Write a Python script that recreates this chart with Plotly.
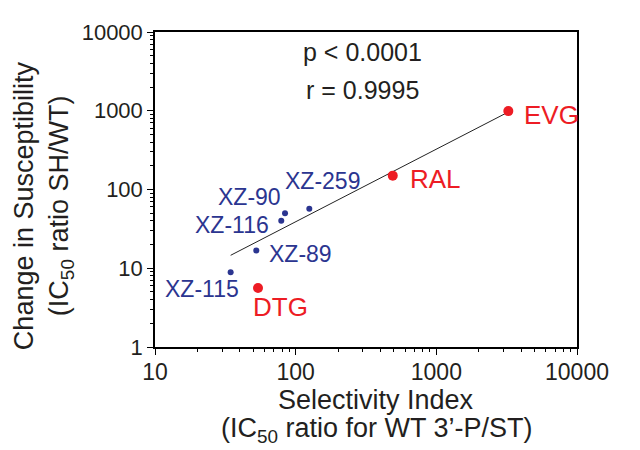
import math
import plotly.graph_objects as go

# Data
xz_names = ["XZ-259", "XZ-90", "XZ-116", "XZ-89", "XZ-115"]
xz_si = [125, 84, 79, 52.5, 34.5]
xz_fold = [57, 50, 40, 16.8, 8.9]

drug_names = ["EVG", "RAL", "DTG"]
drug_si = [3250, 490, 54]
drug_fold = [990, 150, 5.6]

trend_x = [34.5, 3200]
trend_y = [14.6, 950]

y_ticks = [1, 10, 100, 1000, 10000]
x_ticks = [10, 100, 1000, 10000]

BLUE = "#2b3590"
RED = "#ed1c24"
FONT = "Liberation Sans, Arial, sans-serif"
TXT = "#231f20"

# label placement: (xanchor, xshift, yshift) in pixels relative to each point
xz_label_pos = {
    "XZ-259": ("left", -26, 28),
    "XZ-90": ("right", -2, 16),
    "XZ-116": ("right", -10, -4),
    "XZ-89": ("left", 11, -3),
    "XZ-115": ("right", 10, -17),
}
drug_label_pos = {
    "EVG": ("left", 14, -4),
    "RAL": ("left", 15, -3),
    "DTG": ("left", -7, -19),
}

minor_vals = []
for dec in [1, 10, 100, 1000]:
    for m in range(2, 10):
        minor_vals.append(m * dec)

fig = go.Figure()
fig.add_trace(go.Scatter(x=trend_x, y=trend_y, mode="lines",
                         line=dict(color="#222222", width=1), showlegend=False))
fig.add_trace(go.Scatter(x=xz_si, y=xz_fold, mode="markers",
                         marker=dict(color=BLUE, size=6), showlegend=False))
fig.add_trace(go.Scatter(x=drug_si, y=drug_fold, mode="markers",
                         marker=dict(color=RED, size=10), showlegend=False))

for n, x, y in zip(xz_names, xz_si, xz_fold):
    anc, dx, dy = xz_label_pos[n]
    fig.add_annotation(x=math.log10(x), y=math.log10(y), xref="x", yref="y",
                       text=n, showarrow=False,
                       xanchor=anc, yanchor="middle", xshift=dx, yshift=dy,
                       font=dict(family=FONT, size=23, color=BLUE))
for n, x, y in zip(drug_names, drug_si, drug_fold):
    anc, dx, dy = drug_label_pos[n]
    fig.add_annotation(x=math.log10(x), y=math.log10(y), xref="x", yref="y",
                       text=n, showarrow=False,
                       xanchor=anc, yanchor="middle", xshift=dx, yshift=dy,
                       font=dict(family=FONT, size=26, color=RED))

# page has an 8px body offset; layout below compensates so the plot area
# lands at screen x 155..577, y 25..347
L, R, T, B = 147, 71, 17, 111
W = 640 - L - R
H = 450 - T - B


def px(xs):
    return (xs - 8 - L) / W


def py(ys):
    return (450 - B - (ys - 8)) / H


def add_text(xs, ys, text, size, angle=0):
    fig.add_annotation(x=px(xs), y=py(ys), xref="paper", yref="paper",
                       text=text, showarrow=False, textangle=angle,
                       xanchor="center", yanchor="middle",
                       font=dict(family=FONT, size=size, color=TXT))


add_text(362, 45, "p < 0.0001", 25)
add_text(362, 84, "r = 0.9995", 25)
add_text(376, 401, "Selectivity Index", 27)
add_text(377, 432, "(IC<sub>50</sub> ratio for WT 3’-P/ST)", 27)
add_text(24, 203, "Change in Susceptibility", 27, -90)
add_text(61, 203, "(IC<sub>50</sub> ratio SH/WT)", 27, -90)

axis_common = dict(type="log", showgrid=False, zeroline=False,
                   showline=True, linecolor="black", linewidth=1.5, mirror=True,
                   ticks="outside", ticklen=6, tickwidth=1.2, tickcolor="black",
                   minor=dict(tickmode="array", tickvals=minor_vals, ticks="outside",
                              ticklen=3.5, tickwidth=1, tickcolor="black", showgrid=False))

fig.update_layout(
    width=640, height=450,
    margin=dict(l=L, r=R, t=T, b=B),
    paper_bgcolor="white", plot_bgcolor="white",
    xaxis=dict(axis_common, range=[1, 4], tickmode="array", tickvals=x_ticks,
               ticktext=[str(v) for v in x_ticks], ticklabelstandoff=-2,
               tickfont=dict(family=FONT, size=23, color=TXT)),
    yaxis=dict(axis_common, range=[0, 4], tickmode="array", tickvals=y_ticks,
               ticktext=[str(v) for v in y_ticks], ticklabelstandoff=0,
               tickfont=dict(family=FONT, size=22, color=TXT)),
)

fig.write_html("out.html")
